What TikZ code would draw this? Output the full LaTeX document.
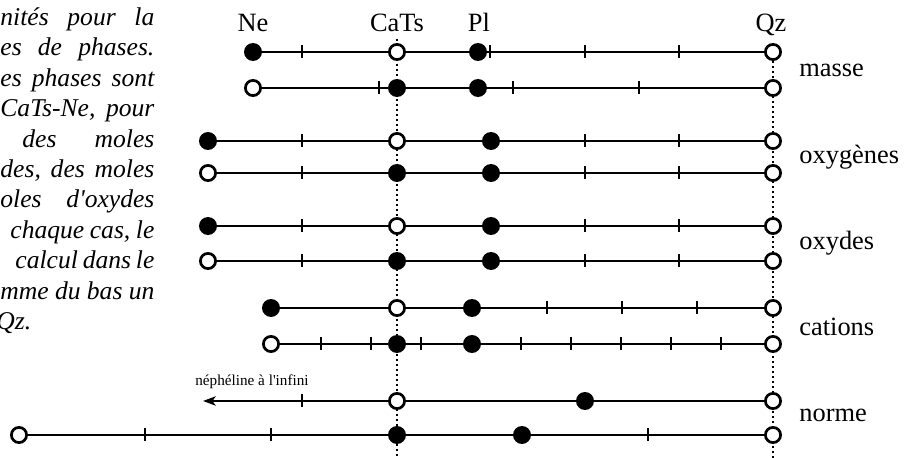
\documentclass[tikz,border=0pt]{standalone}
\usepackage{fontspec}
\setmainfont{Liberation Serif}
\usetikzlibrary{arrows.meta,backgrounds}
\tikzset{
  open dot/.style={
    circle, draw=black, line width=1.35pt, fill=white,
    inner sep=0pt, minimum size=7.6pt
  },
  filled dot/.style={open dot, fill=black},
  scale line/.style={line width=1.25pt},
  scale tick/.style={line width=1.05pt},
  guide line/.style={line width=0.6pt, dash pattern=on 1.2pt off 1.3pt},
  end label/.style={font=\fontsize{13.2}{15}\selectfont, anchor=base, inner sep=0pt},
  row label/.style={font=\fontsize{13.2}{15}\selectfont, anchor=base west, inner sep=0pt},
  caption text/.style={
    font=\itshape\fontsize{12.8}{15.2}\selectfont,
    text width=77pt, align=left, inner sep=0pt, anchor=base west
  }
}

\begin{document}
\begin{tikzpicture}[x=0.5pt, y=-0.5pt]
    \useasboundingbox (0,0) rectangle (907,458);

    % texte de la legende (coupe a gauche)
    \node[caption text] (caption) at (0,25.5) {nités\hfill pour\hfill la\\
      es\hfill de\hfill phases.\\
      es\hfill phases\hfill sont\\
      CaTs-Ne,\hfill pour\\
      \hspace*{11pt}des\hfill moles\\
      des,\hfill des\hfill moles\\
      oles\hfill d\textquotesingle oxydes\\
      \hspace*{5pt}chaque\hfill cas,\hfill le\\
      \hspace*{7.5pt}calcul\hfill dans\hfill le\\
      mme\hfill du\hfill bas\hfill un\\
      \hspace*{-2pt}Qz.};

    % poles
    \node[end label] (ne) at (253,32) {Ne};
    \node[end label] (cats) at (397,32) {CaTs};
    \node[end label] (pl) at (479,32) {Pl};
    \node[end label] (qz) at (771,32) {Qz};
    \coordinate (cats bottom) at (397,458);
    \coordinate (qz bottom) at (773,458);

    % masse
    \node[filled dot] (ma-ne) at (253,52) {};
    \node[open dot] (ma-cats) at (397,52) {};
    \node[filled dot] (ma-pl) at (478,52) {};
    \node[open dot] (ma-qz) at (773,52) {};
    \draw[scale line] (ma-ne) -- (ma-cats) -- (ma-pl) -- (ma-qz);
    \foreach \x in {302,490,585,679}
      \draw[scale tick] (\x,52) ++(0,-6.5) -- ++(0,13);

    \node[open dot] (mb-ne) at (253,88) {};
    \node[filled dot] (mb-cats) at (397,88) {};
    \node[filled dot] (mb-pl) at (478,88) {};
    \node[open dot] (mb-qz) at (773,88) {};
    \draw[scale line] (mb-ne) -- (mb-cats) -- (mb-pl) -- (mb-qz);
    \foreach \x in {379,513,639}
      \draw[scale tick] (\x,88) ++(0,-6.5) -- ++(0,13);
    \node[row label] (masse) at (799,77) {masse};

    % oxygenes
    \node[filled dot] (oa-ne) at (208,141) {};
    \node[open dot] (oa-cats) at (397,141) {};
    \node[filled dot] (oa-pl) at (491,141) {};
    \node[open dot] (oa-qz) at (773,141) {};
    \draw[scale line] (oa-ne) -- (oa-cats) -- (oa-pl) -- (oa-qz);

    \node[open dot] (ob-ne) at (208,173) {};
    \node[filled dot] (ob-cats) at (397,173) {};
    \node[filled dot] (ob-pl) at (491,173) {};
    \node[open dot] (ob-qz) at (773,173) {};
    \draw[scale line] (ob-ne) -- (ob-cats) -- (ob-pl) -- (ob-qz);
    \foreach \y in {141,173}
      \foreach \x in {302,585,679}
        \draw[scale tick] (\x,\y) ++(0,-6.5) -- ++(0,13);
    \node[row label] (oxygenes) at (799,164) {oxygènes};

    % oxydes
    \node[filled dot] (xa-ne) at (208,226) {};
    \node[open dot] (xa-cats) at (397,226) {};
    \node[filled dot] (xa-pl) at (491,226) {};
    \node[open dot] (xa-qz) at (773,226) {};
    \draw[scale line] (xa-ne) -- (xa-cats) -- (xa-pl) -- (xa-qz);

    \node[open dot] (xb-ne) at (208,261) {};
    \node[filled dot] (xb-cats) at (397,261) {};
    \node[filled dot] (xb-pl) at (491,261) {};
    \node[open dot] (xb-qz) at (773,261) {};
    \draw[scale line] (xb-ne) -- (xb-cats) -- (xb-pl) -- (xb-qz);
    \foreach \y in {226,261}
      \foreach \x in {302,585,679}
        \draw[scale tick] (\x,\y) ++(0,-6.5) -- ++(0,13);
    \node[row label] (oxydes) at (799,250) {oxydes};

    % cations
    \node[filled dot] (ca-ne) at (271,308) {};
    \node[open dot] (ca-cats) at (397,308) {};
    \node[filled dot] (ca-pl) at (472,308) {};
    \node[open dot] (ca-qz) at (773,308) {};
    \draw[scale line] (ca-ne) -- (ca-cats) -- (ca-pl) -- (ca-qz);
    \foreach \x in {547,622,697}
      \draw[scale tick] (\x,308) ++(0,-6.5) -- ++(0,13);

    \node[open dot] (cb-ne) at (271,344) {};
    \node[filled dot] (cb-cats) at (397,344) {};
    \node[filled dot] (cb-pl) at (472,344) {};
    \node[open dot] (cb-qz) at (773,344) {};
    \draw[scale line] (cb-ne) -- (cb-cats) -- (cb-pl) -- (cb-qz);
    \foreach \x in {321,371,421,521,571,621,671,721}
      \draw[scale tick] (\x,344) ++(0,-6.5) -- ++(0,13);
    \node[row label] (cations) at (799,336) {cations};

    % norme
    \coordinate (na-inf) at (203,401);
    \node[open dot] (na-cats) at (397,401) {};
    \node[filled dot] (na-pl) at (585,401) {};
    \node[open dot] (na-qz) at (773,401) {};
    \draw[scale line, -{Stealth[length=6.3pt, width=4.6pt, inset=1.6pt]}] (na-cats) -- (na-inf);
    \draw[scale line] (na-cats) -- (na-pl) -- (na-qz);
    \draw[scale tick] (302,401) ++(0,-6.5) -- ++(0,13);
    \node[font=\fontsize{7.6}{9}\selectfont, anchor=base, inner sep=0pt] (infini) at (252,386) {néphéline à l\textquotesingle infini};

    \node[open dot] (nb-ne) at (19,435) {};
    \node[filled dot] (nb-cats) at (397,435) {};
    \node[filled dot] (nb-pl) at (522,435) {};
    \node[open dot] (nb-qz) at (773,435) {};
    \draw[scale line] (nb-ne) -- (nb-cats) -- (nb-pl) -- (nb-qz);
    \foreach \x in {145,271,648}
      \draw[scale tick] (\x,435) ++(0,-6.5) -- ++(0,13);
    \node[row label] (norme) at (799,422) {norme};

    % lignes de rappel
    \begin{scope}[on background layer]
      \draw[guide line, shorten <=3pt] (cats.south) -- (cats bottom);
      \draw[guide line] (ma-qz) -- (qz bottom);
    \end{scope}
\end{tikzpicture}
\end{document}
